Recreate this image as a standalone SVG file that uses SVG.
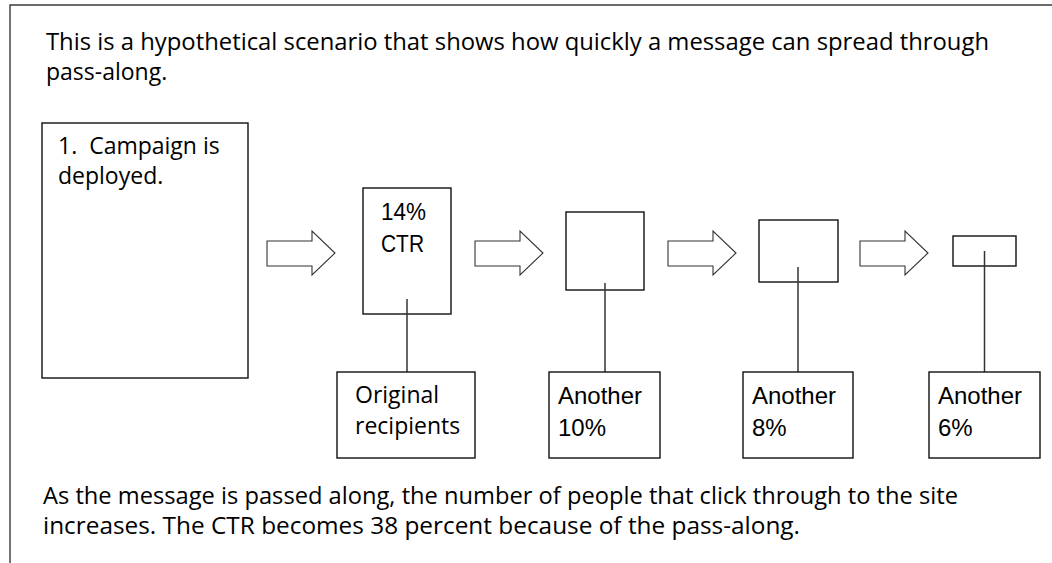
<svg xmlns="http://www.w3.org/2000/svg" width="1052" height="563" viewBox="0 0 1052 563">
<style>
.frame{fill:none;stroke:#3a3a3a;stroke-width:1.4}
.box{fill:#fff;stroke:#111;stroke-width:1.4}
.arrow{fill:#fff;stroke:#333;stroke-width:1.1;stroke-linejoin:miter}
.conn{fill:none;stroke:#333;stroke-width:1.5}
.hum{font-family:"Open Sans","Noto Sans","DejaVu Sans",sans-serif;font-size:23px;fill:#000}
.hel{font-family:"Liberation Sans",Arial,sans-serif;font-size:24px;fill:#000}
</style>
<defs>
<polygon id="arr" class="arrow" points="0,10 45,10 45,0 68,22 45,44 45,35 0,35"/>
</defs>
<g id="frame">
<path class="frame" d="M10,563 V5 H1052"/>
</g>
<g id="intro">
<text class="hum" x="46" y="50" textLength="943" lengthAdjust="spacingAndGlyphs">This is a hypothetical scenario that shows how quickly a message can spread through</text>
<text class="hum" x="46" y="80">pass-along.</text>
</g>
<g id="campaign">
<rect class="box" x="42" y="123" width="206" height="255"/>
<text class="hum" x="58" y="154">1.&#160; Campaign is</text>
<text class="hum" x="58" y="184">deployed.</text>
</g>
<g id="arrows">
<use href="#arr" x="267" y="231"/>
<use href="#arr" x="475" y="231"/>
<use href="#arr" x="668" y="231"/>
<use href="#arr" x="860" y="231"/>
</g>
<g id="ctr">
<rect class="box" x="363" y="188" width="88" height="126"/>
<text class="hel" x="381" y="220" textLength="45" lengthAdjust="spacingAndGlyphs">14%</text>
<text class="hel" x="381" y="252" textLength="43" lengthAdjust="spacingAndGlyphs">CTR</text>
</g>
<g id="step2"><rect class="box" x="566" y="212" width="78" height="78"/></g>
<g id="step3"><rect class="box" x="759" y="220" width="79" height="62"/></g>
<g id="step4"><rect class="box" x="953" y="236" width="63" height="30"/></g>
<g id="connectors">
<line class="conn" x1="407" y1="299" x2="407" y2="372"/>
<line class="conn" x1="605" y1="283" x2="605" y2="372"/>
<line class="conn" x1="798" y1="267" x2="798" y2="372"/>
<line class="conn" x1="984.5" y1="251" x2="984.5" y2="372"/>
</g>
<g id="original">
<rect class="box" x="337" y="372" width="138" height="86"/>
<text class="hum" x="355" y="403">Original</text>
<text class="hum" x="355" y="434">recipients</text>
</g>
<g id="another10">
<rect class="box" x="549" y="372" width="111" height="86"/>
<text class="hel" x="558" y="404">Another</text>
<text class="hel" x="558" y="436">10%</text>
</g>
<g id="another8">
<rect class="box" x="743" y="372" width="110" height="86"/>
<text class="hel" x="752" y="404">Another</text>
<text class="hel" x="752" y="436">8%</text>
</g>
<g id="another6">
<rect class="box" x="929" y="372" width="111" height="86"/>
<text class="hel" x="938" y="404">Another</text>
<text class="hel" x="938" y="436">6%</text>
</g>
<g id="summary">
<text class="hum" x="43" y="504" textLength="915" lengthAdjust="spacingAndGlyphs">As the message is passed along, the number of people that click through to the site</text>
<text class="hum" x="43" y="534" textLength="757" lengthAdjust="spacingAndGlyphs">increases. The CTR becomes 38 percent because of the pass-along.</text>
</g>
</svg>
